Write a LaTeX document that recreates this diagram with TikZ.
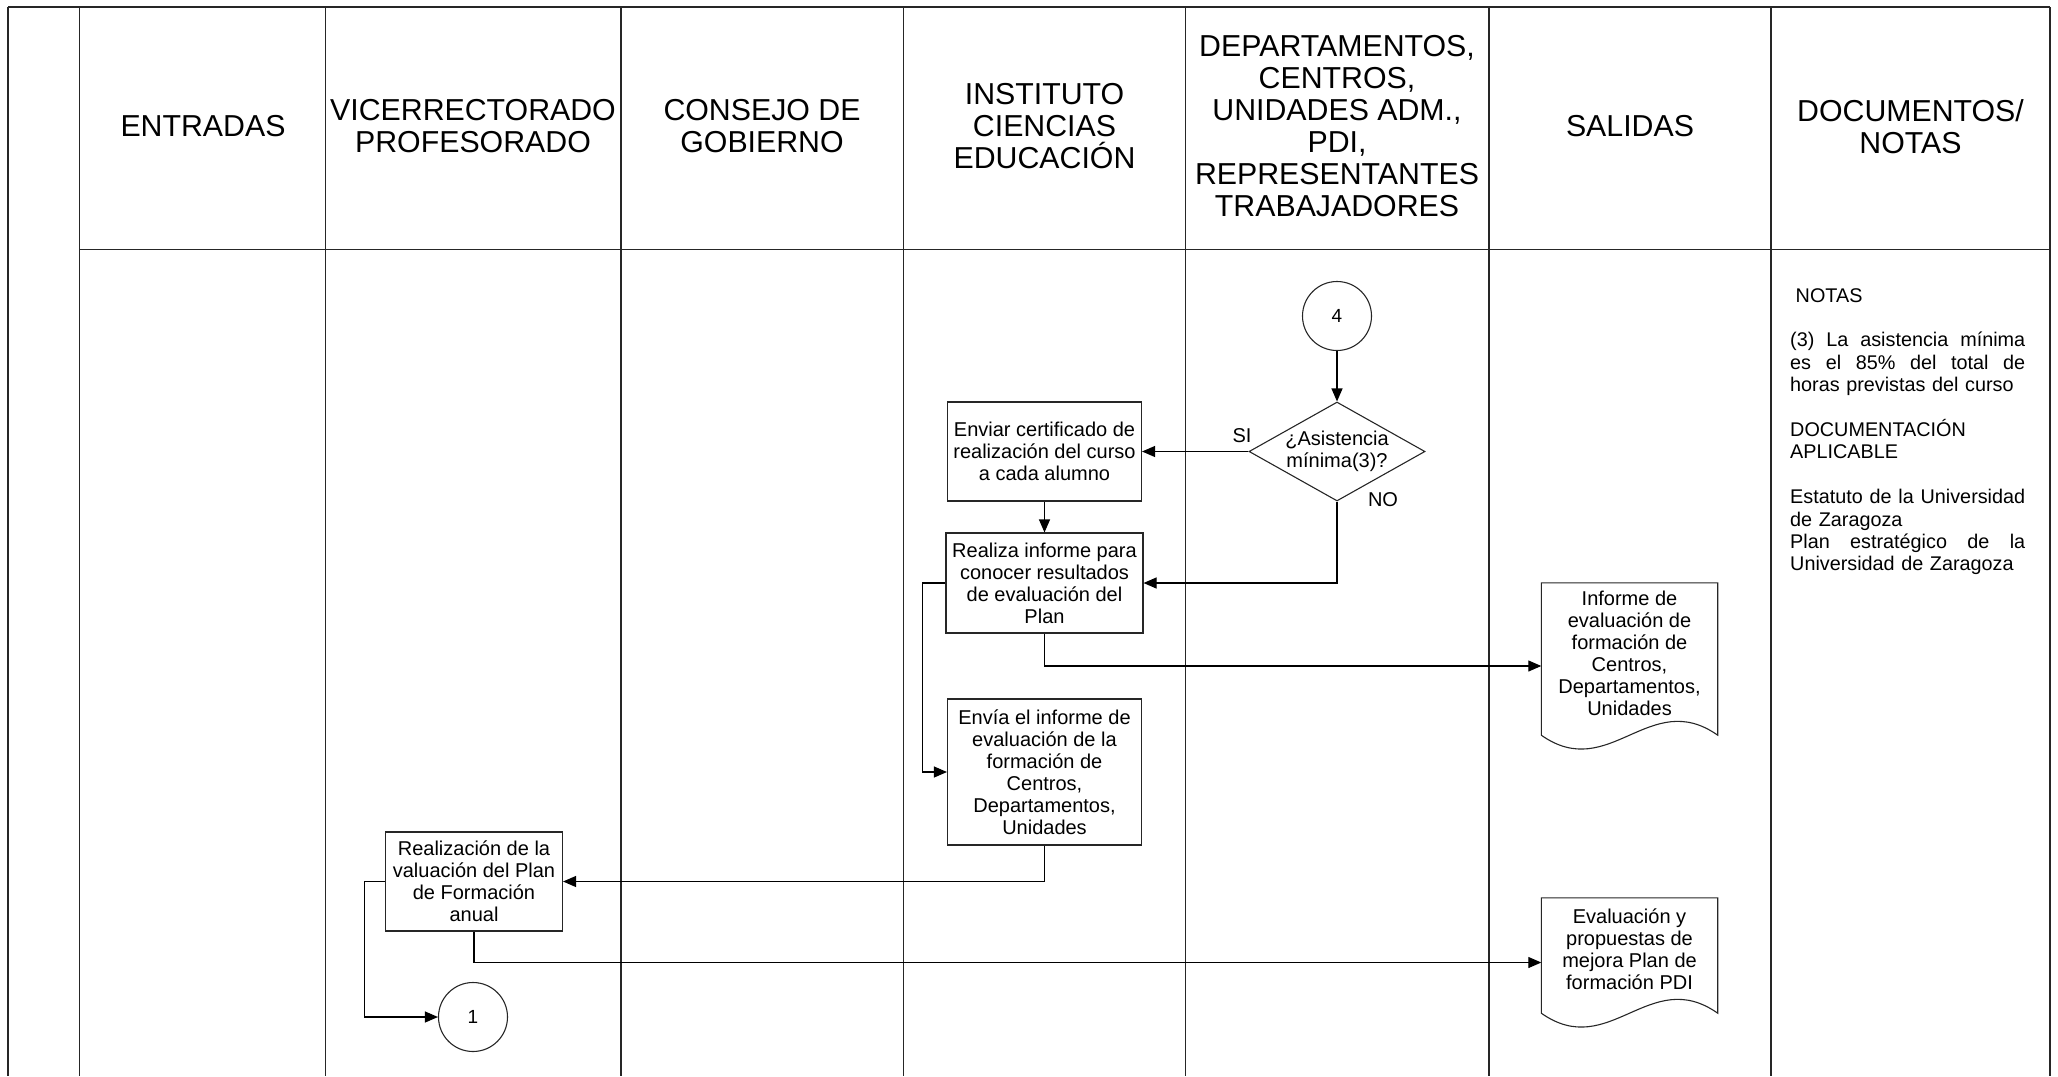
\documentclass[tikz,border=0pt]{standalone}
\usepackage{fontspec}
\setmainfont{Liberation Sans}
\usetikzlibrary{shapes.geometric,arrows.meta}
\newcommand{\notesjust}[1]{\makebox[235pt][s]{\spaceskip=0pt\relax\xspaceskip=0pt\relax #1}}
\begin{document}
\begin{tikzpicture}[x=1pt,y=-1pt,
  gridline/.style={line width=1.4pt, draw=black!85},
  hdr/.style={font=\fontsize{30.3}{32}\selectfont, align=center, inner sep=0pt},
  procbox/.style={draw=black!85, line width=1.1pt, rectangle, align=center, inner sep=0pt, font=\fontsize{20}{22}\selectfont},
  connc/.style={draw=black!85, line width=1.1pt, circle, minimum size=69pt, inner sep=0pt, font=\fontsize{19}{22}\selectfont},
  decis/.style={draw=black!85, line width=1.1pt, diamond, inner sep=0pt},
  docbox/.style={rectangle, inner sep=0pt, minimum width=176pt},
  shapeline/.style={draw=black!85, line width=1.1pt},
  lbl/.style={font=\fontsize{20}{22}\selectfont, inner sep=0pt},
  arr/.style={draw=black, line width=1.1pt, -{Triangle[length=13pt,width=11pt]}}
]
\useasboundingbox (0,0) rectangle (2058,1076);

% grid
\draw[gridline] (8,7) -- (2050,7);
\draw[gridline] (8,7) -- (8,1076);
\foreach \x in {79.5,325.5,621,903.5,1185.5,1489,1771,2050}
  \draw[gridline] (\x,7) -- (\x,1076);
\draw[gridline] (79.5,249.5) -- (2050,249.5);

% headers
\node[hdr] (h1) at (203,126.5) {ENTRADAS};
\node[hdr] (h2) at (473,126.5) {VICERRECTORADO\\PROFESORADO};
\node[hdr] (h3) at (762,126.5) {CONSEJO DE\\GOBIERNO};
\node[hdr] (h4) at (1044.5,126.5) {INSTITUTO\\CIENCIAS\\EDUCACIÓN};
\node[hdr] (h5) at (1337,126.5) {DEPARTAMENTOS,\\CENTROS,\\UNIDADES ADM.,\\PDI,\\REPRESENTANTES\\TRABAJADORES};
\node[hdr] (h6) at (1630,126.5) {SALIDAS};
\node[hdr] (h7) at (1910.5,126.5) {DOCUMENTOS/\\NOTAS};

% flow nodes
\node[connc] (c4) at (1337,316) {4};
\node[decis, minimum width=176pt, minimum height=99pt,
  label={[lbl,align=center]center:{¿Asistencia\\mínima(3)?}}] (dec) at (1337,451.5) {};
\node[procbox, minimum width=194pt, minimum height=99pt] (env) at (1044.5,451.5)
  {Enviar certificado de\\realización del curso\\a cada alumno};
\node[procbox, minimum width=197pt, minimum height=100pt] (rea) at (1044.5,583)
  {Realiza informe para\\conocer resultados\\de evaluación del\\Plan};
\node[procbox, minimum width=194pt, minimum height=146pt] (envia) at (1044.5,772)
  {Envía el informe de\\evaluación de la\\formación de\\Centros,\\Departamentos,\\Unidades};
\node[procbox, minimum width=177pt, minimum height=99pt] (rlz) at (474,881.5)
  {Realización de la\\valuación del Plan\\de Formación\\anual};
\node[connc] (c1) at (473,1017) {1};

\node[docbox, minimum height=166pt,
  label={[lbl,align=center,yshift=13pt]center:{Informe de\\evaluación de\\formación de\\Centros,\\Departamentos,\\Unidades}}] (doc1) at (1629.5,666) {};
\draw[shapeline] (doc1.north west) -- (doc1.north east) -- ([yshift=14pt]doc1.south east)
  .. controls +(-68,-48) and +(68,48) .. ([yshift=14pt]doc1.south west) -- cycle;

\node[docbox, minimum height=129pt,
  label={[lbl,align=center,yshift=13pt]center:{Evaluación y\\propuestas de\\mejora Plan de\\formación PDI}}] (doc2) at (1629.5,962.5) {};
\draw[shapeline] (doc2.north west) -- (doc2.north east) -- ([yshift=14pt]doc2.south east)
  .. controls +(-68,-48) and +(68,48) .. ([yshift=14pt]doc2.south west) -- cycle;

\node[lbl] (si) at (1242,436) {SI};
\node[lbl] (no) at (1383,500) {NO};

% notes
\node[anchor=north west, inner sep=0pt, text width=235pt, align=left,
  font=\fontsize{19.8}{22.4}\selectfont] (notes) at (1790,288)
  {\hspace*{5.5pt}NOTAS\\[22.4pt]
   \notesjust{(3) La asistencia mínima}\\
   \notesjust{es el 85\% del total de}\\
   horas previstas del curso\\[22.4pt]
   DOCUMENTACIÓN\\
   APLICABLE\\[22.4pt]
   \notesjust{Estatuto de la Universidad}\\
   de Zaragoza\\
   \notesjust{Plan estratégico de la}\\
   Universidad de Zaragoza};

% connectors
\draw[arr] (c4) -- (dec);
\draw[arr] (dec.west) -- (env.east);
\draw[arr] (dec.south) |- (rea.east);
\draw[arr] (env) -- (rea);
\draw[arr] (rea.south) |- (doc1.west);
\draw[arr] (rea.west) -- ++(-23,0) |- (envia.west);
\draw[arr] (envia.south) |- (rlz.east);
\draw[arr] (rlz.south) |- (doc2.west);
\draw[arr] (rlz.west) -- ++(-20.5,0) |- (c1.west);
\end{tikzpicture}
\end{document}
